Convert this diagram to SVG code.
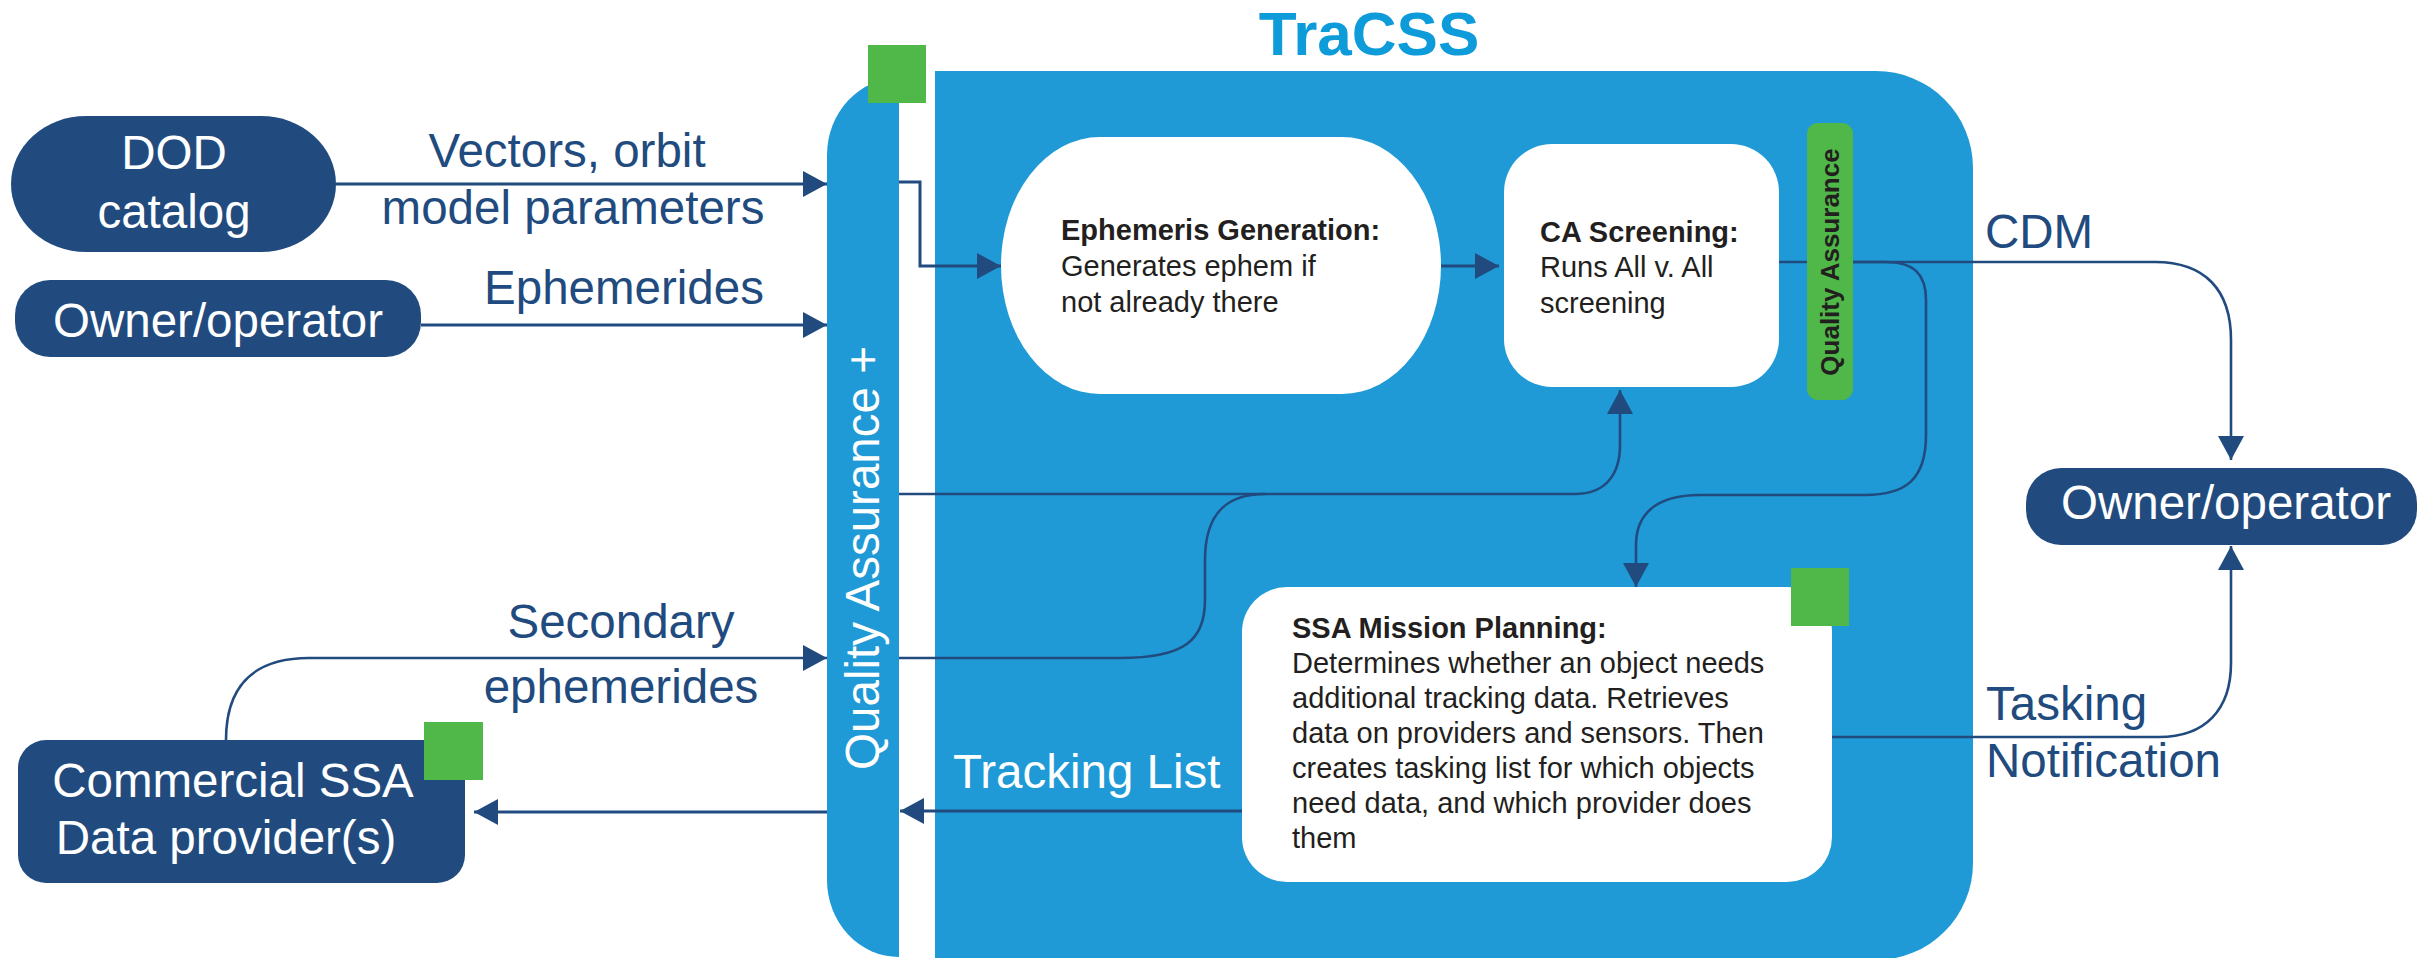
<svg xmlns="http://www.w3.org/2000/svg" width="2425" height="958" viewBox="0 0 2425 958">
<style>
.big{font-family:"Liberation Sans",Arial,sans-serif;font-size:47.5px}
.lbl{fill:#214b7e}
.wt{fill:#ffffff}
.sm{font-family:"Liberation Sans",Arial,sans-serif;font-size:29px;fill:#231f20}
.b{font-weight:bold}
.node{fill:#214b7e}
.white{fill:#ffffff}
.green{fill:#50b848}
.conn{fill:none;stroke:#214b7e;stroke-width:3}
.thin{stroke-width:2.6}
</style>
<defs>
<marker id="ah" markerUnits="userSpaceOnUse" markerWidth="24" markerHeight="26" refX="24" refY="13" orient="auto">
<path d="M0,0 L24,13 L0,26 Z" fill="#214b7e"/>
</marker>
</defs>
<rect width="2425" height="958" fill="#ffffff"/>
<g id="tracss">
<path d="M935 71 H1876 A97 97 0 0 1 1973 168 V863 A97 97 0 0 1 1876 960 H935 Z" fill="#1f9ad6"/>
<text x="1369" y="55" text-anchor="middle" font-family="'Liberation Sans',Arial,sans-serif" font-weight="bold" font-size="62" fill="#0e9bd9">TraCSS</text>
</g>
<g id="qa-bar">
<path d="M899 78 V957 A72 77 0 0 1 827 880 V155 A72 77 0 0 1 899 78 Z" fill="#1f9ad6"/>
<text class="big wt" transform="translate(879 558) rotate(-90)" text-anchor="middle">Quality Assurance +</text>
</g>
<g id="connectors">
<path class="conn" d="M336 184 H827" marker-end="url(#ah)"/>
<path class="conn" d="M421 325 H827" marker-end="url(#ah)"/>
<path class="conn" d="M899 182 H920 V266 H1001" marker-end="url(#ah)"/>
<path class="conn" d="M1441 266 H1499" marker-end="url(#ah)"/>
<path class="conn thin" d="M1779 262 H2155 C2205 262 2231 290 2231 340 V460" marker-end="url(#ah)"/>
<path class="conn thin" d="M1850 262 H1885 C1915 262 1926 275 1926 300 V435 C1926 480 1905 495 1865 495 H1700 C1655 495 1636 515 1636 545 V587" marker-end="url(#ah)"/>
<path class="conn thin" d="M899 494 H1575 C1605 494 1620 475 1620 445 V390" marker-end="url(#ah)"/>
<path class="conn thin" d="M899 658 H1120 C1185 658 1205 640 1205 600 V560 C1205 515 1225 494 1265 494"/>
<path class="conn thin" d="M226 740 C226 690 250 658 309 658 H827" marker-end="url(#ah)"/>
<path class="conn thin" d="M1832 737 H2159 C2205 737 2231 710 2231 663 V546" marker-end="url(#ah)"/>
<path class="conn" d="M1242 811 H900" marker-end="url(#ah)"/>
<path class="conn" d="M827 812 H474" marker-end="url(#ah)"/>
<text class="big lbl" x="567" y="167" text-anchor="middle">Vectors, orbit</text>
<text class="big lbl" x="573" y="224" text-anchor="middle">model parameters</text>
<text class="big lbl" x="624" y="304" text-anchor="middle">Ephemerides</text>
<text class="big lbl" x="621" y="638" text-anchor="middle">Secondary</text>
<text class="big lbl" x="621" y="703" text-anchor="middle">ephemerides</text>
<text class="big wt" x="953" y="788">Tracking List</text>
<text class="big lbl" x="1985" y="248">CDM</text>
<text class="big lbl" x="1986" y="720">Tasking</text>
<text class="big lbl" x="1986" y="777">Notification</text>
</g>
<g id="dod-catalog">
<rect x="11" y="116" width="325" height="136" rx="75" ry="68" class="node"/>
<text class="big wt" x="174" y="169" text-anchor="middle">DOD</text>
<text class="big wt" x="174" y="228" text-anchor="middle">catalog</text>
</g>
<g id="owner-operator-in">
<rect x="15" y="280" width="406" height="77" rx="35" class="node"/>
<text class="big wt" x="218" y="337" text-anchor="middle">Owner/operator</text>
</g>
<g id="commercial-ssa">
<rect x="18" y="740" width="447" height="143" rx="28" class="node"/>
<text class="big wt" x="233" y="797" text-anchor="middle">Commercial SSA</text>
<text class="big wt" x="226" y="854" text-anchor="middle">Data provider(s)</text>
</g>
<g id="owner-operator-out">
<rect x="2026" y="468" width="391" height="77" rx="35" class="node"/>
<text class="big wt" x="2226" y="519" text-anchor="middle">Owner/operator</text>
</g>
<g id="ephemeris-generation">
<path d="M1100 137 H1342 A99 128.5 0 0 1 1342 394 H1100 A99 128.5 0 0 1 1100 137 Z" class="white"/>
<text class="sm b" x="1061" y="240">Ephemeris Generation:</text>
<text class="sm" x="1061" y="276">Generates ephem if</text>
<text class="sm" x="1061" y="312">not already there</text>
</g>
<g id="ca-screening">
<rect x="1504" y="144" width="275" height="243" rx="48" class="white"/>
<text class="sm b" x="1540" y="242" font-size="28.5">CA Screening:</text>
<text class="sm" x="1540" y="277" font-size="28.5">Runs All v. All</text>
<text class="sm" x="1540" y="313" font-size="28.5">screening</text>
</g>
<g id="qa-green">
<rect x="1807" y="123" width="46" height="277" rx="11" class="green"/>
<text transform="translate(1839 262) rotate(-90)" text-anchor="middle" font-family="'Liberation Sans',Arial,sans-serif" font-weight="bold" font-size="26" fill="#231f20">Quality Assurance</text>
</g>
<g id="ssa-mission-planning">
<rect x="1242" y="587" width="590" height="295" rx="45" class="white"/>
<text class="sm b" x="1292" y="638">SSA Mission Planning:</text>
<text class="sm" x="1292" y="673">Determines whether an object needs</text>
<text class="sm" x="1292" y="708">additional tracking data. Retrieves</text>
<text class="sm" x="1292" y="743">data on providers and sensors. Then</text>
<text class="sm" x="1292" y="778">creates tasking list for which objects</text>
<text class="sm" x="1292" y="813">need data, and which provider does</text>
<text class="sm" x="1292" y="848">them</text>
</g>
<g id="green-markers">
<rect x="868" y="45" width="58" height="58" class="green"/>
<rect x="1791" y="568" width="58" height="58" class="green"/>
<rect x="424" y="722" width="59" height="58" class="green"/>
</g>
</svg>
